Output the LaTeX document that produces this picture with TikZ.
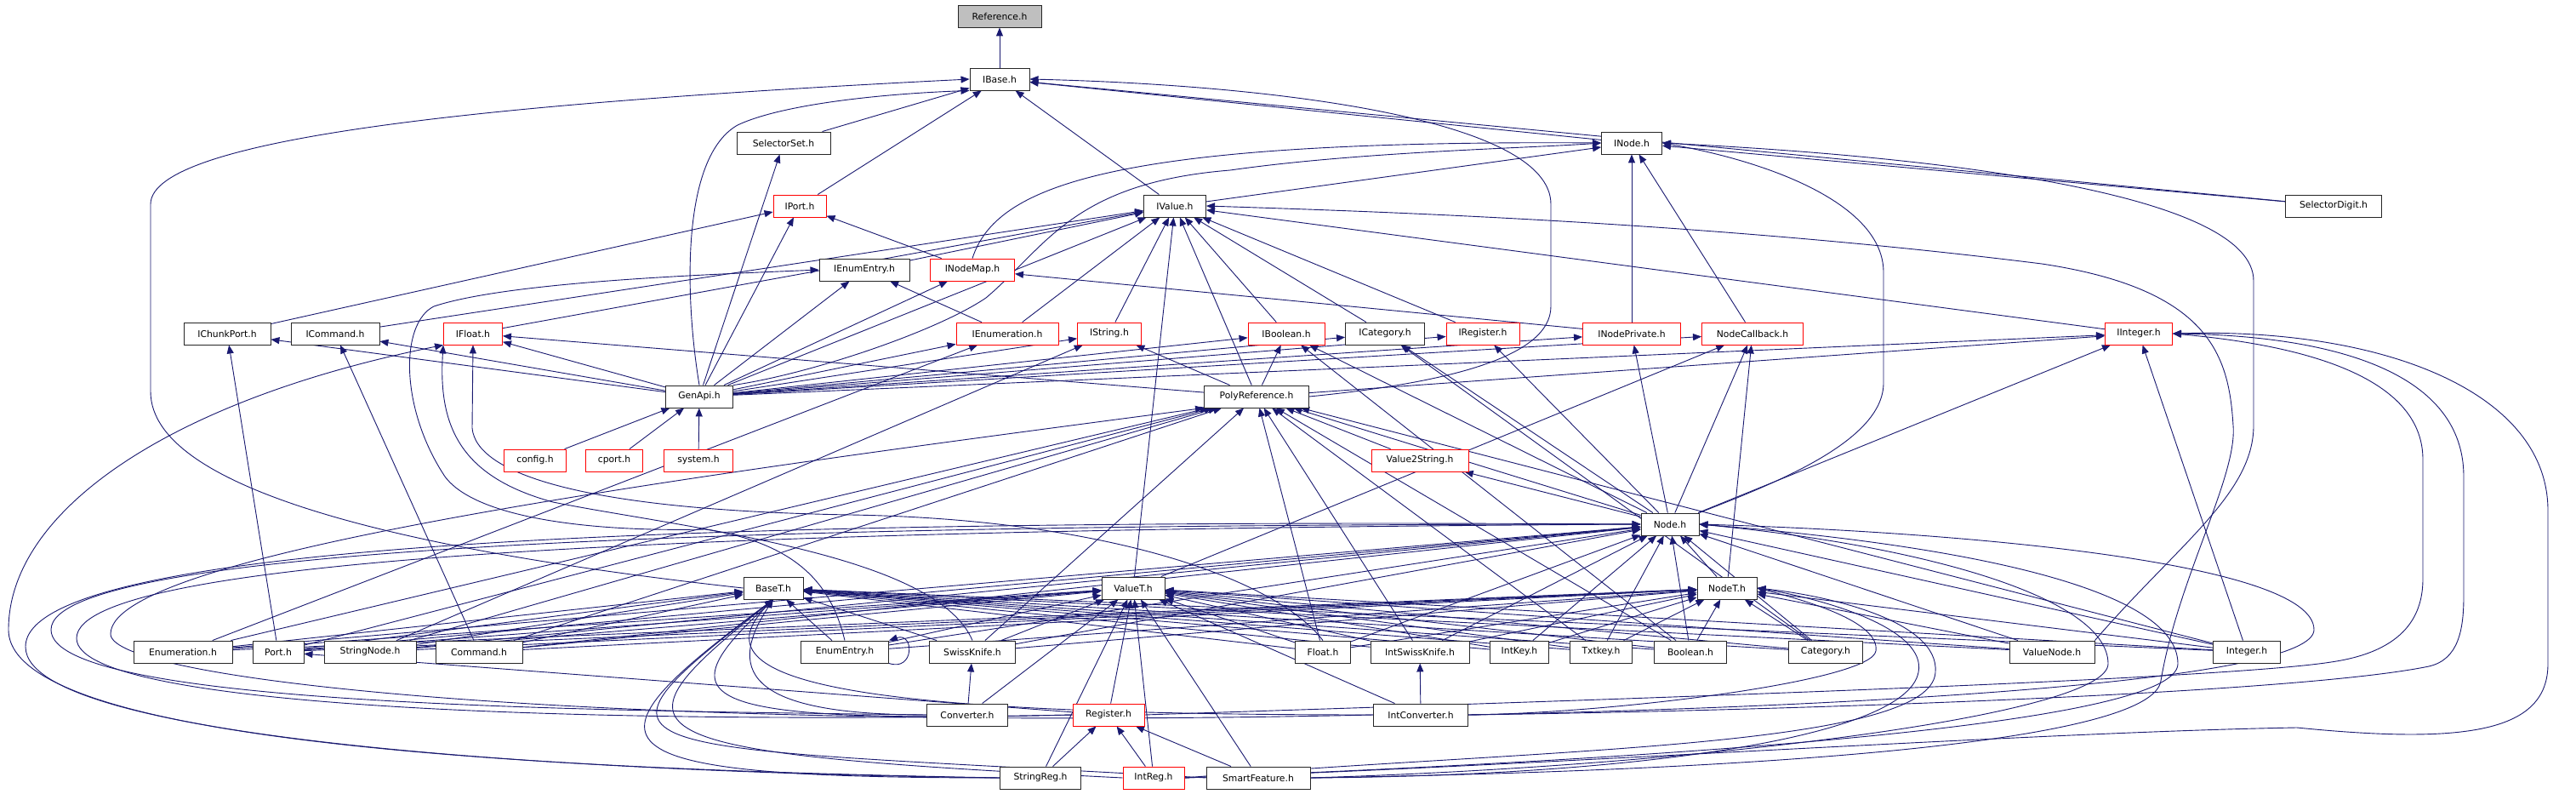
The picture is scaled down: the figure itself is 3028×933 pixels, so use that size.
\documentclass[tikz,border=0pt]{standalone}
\usepackage{fontspec}
\setmainfont{DejaVu Sans}
\usetikzlibrary{arrows.meta}
\definecolor{edgeblue}{HTML}{191970}
\definecolor{refgray}{HTML}{BFBFBF}
\pgfdeclarelayer{edgelayer}
\pgfsetlayers{edgelayer,main}
\begin{document}
\begin{tikzpicture}[x=1pt,y=-1pt,
 nb/.style={draw=black!85,line width=0.9pt,fill=white,minimum height=26pt,inner sep=0pt,font=\fontsize{10.8}{13}\selectfont},
 nr/.style={nb,draw=red},
 dep/.style={draw=edgeblue,line width=0.9pt,-{Triangle[length=10pt,width=8pt]}}]
\useasboundingbox (0,0) rectangle (3028,933);
% rank 0-4
\node[nb,fill=refgray,minimum width=98] (ref) at (1175,19) {Reference.h};
\node[nb,minimum width=70] (ibase) at (1175,93) {IBase.h};
\node[nb,minimum width=110] (selset) at (921,168) {SelectorSet.h};
\node[nb,minimum width=71] (inode) at (1918,168) {INode.h};
\node[nr,minimum width=62] (iport) at (940,242) {IPort.h};
\node[nb,minimum width=73] (ivalue) at (1381,242) {IValue.h};
\node[nb,minimum width=113] (seldig) at (2743,242) {SelectorDigit.h};
\node[nb,minimum width=106] (ienumentry) at (1016,317) {IEnumEntry.h};
\node[nr,minimum width=99] (inodemap) at (1143,317) {INodeMap.h};
% rank 5
\node[nb,minimum width=102] (ichunk) at (267,392) {IChunkPort.h};
\node[nb,minimum width=104] (icmd) at (394,392) {ICommand.h};
\node[nr,minimum width=69] (ifloat) at (556,392) {IFloat.h};
\node[nr,minimum width=120] (ienum) at (1184,392) {IEnumeration.h};
\node[nr,minimum width=75] (istring) at (1304,392) {IString.h};
\node[nr,minimum width=90] (ibool) at (1512,392) {IBoolean.h};
\node[nb,minimum width=93] (icat) at (1628,392) {ICategory.h};
\node[nr,minimum width=86] (ireg) at (1743,392) {IRegister.h};
\node[nr,minimum width=115] (inodepriv) at (1918,392) {INodePrivate.h};
\node[nr,minimum width=119] (nodecb) at (2060,392) {NodeCallback.h};
\node[nr,minimum width=79] (iint) at (2514,392) {IInteger.h};
% rank 6-9
\node[nb,minimum width=79] (genapi) at (822,466) {GenApi.h};
\node[nb,minimum width=123] (poly) at (1477,466) {PolyReference.h};
\node[nr,minimum width=73] (config) at (629,541) {config.h};
\node[nr,minimum width=67] (cport) at (722,541) {cport.h};
\node[nr,minimum width=81] (system) at (821,541) {system.h};
\node[nr,minimum width=114] (v2s) at (1669,541) {Value2String.h};
\node[nb,minimum width=68] (node) at (1963,616) {Node.h};
\node[nb,minimum width=70] (baset) at (909,691) {BaseT.h};
\node[nb,minimum width=74] (valuet) at (1332,691) {ValueT.h};
\node[nb,minimum width=70] (nodet) at (2030,691) {NodeT.h};
% rank 10
\node[nb,minimum width=116] (enumer) at (215,766) {Enumeration.h};
\node[nb,minimum width=60] (port) at (327,766) {Port.h};
\node[nb,minimum width=108] (strnode) at (435,766) {StringNode.h};
\node[nb,minimum width=102] (cmd) at (563,766) {Command.h};
\node[nb,minimum width=103] (enumentry) at (993,766) {EnumEntry.h};
\node[nb,minimum width=101] (swiss) at (1143,766) {SwissKnife.h};
\node[nb,minimum width=65] (float) at (1555,766) {Float.h};
\node[nb,minimum width=116] (intswiss) at (1669,766) {IntSwissKnife.h};
\node[nb,minimum width=69] (intkey) at (1786,766) {IntKey.h};
\node[nb,minimum width=73] (txtkey) at (1882,766) {Txtkey.h};
\node[nb,minimum width=85] (bool) at (1987,766) {Boolean.h};
\node[nb,minimum width=87] (cat) at (2146,766) {Category.h};
\node[nb,minimum width=100] (valnode) at (2412,766) {ValueNode.h};
\node[nb,minimum width=79] (integer) at (2641,766) {Integer.h};
% rank 11-12
\node[nb,minimum width=95] (conv) at (1137,840) {Converter.h};
\node[nr,minimum width=84] (reg) at (1303,840) {Register.h};
\node[nb,minimum width=111] (intconv) at (1670,840) {IntConverter.h};
\node[nb,minimum width=95] (strreg) at (1223,914) {StringReg.h};
\node[nr,minimum width=72] (intreg) at (1356,914) {IntReg.h};
\node[nb,minimum width=122] (smart) at (1479,914) {SmartFeature.h};

\begin{pgfonlayer}{edgelayer}
\fill[white] (0,0) rectangle (3028,933);
\foreach \a/\b in {ibase/ref, selset/ibase, inode/ibase, iport/ibase, ivalue/ibase, seldig/ibase,
 ivalue/inode, inodepriv/inode, nodecb/inode, seldig/inode,
 genapi/selset, genapi/iport, ichunk/iport, inodemap/iport,
 ienumentry/ivalue, genapi/ivalue, ifloat/ivalue, icmd/ivalue, ienum/ivalue, istring/ivalue, valuet/ivalue, poly/ivalue, ibool/ivalue, icat/ivalue, ireg/ivalue, iint/ivalue,
 genapi/ienumentry, ienum/ienumentry, genapi/inodemap, inodepriv/inodemap,
 genapi/ichunk, port/ichunk, genapi/icmd, cmd/icmd, genapi/ifloat, poly/ifloat,
 genapi/ienum, enumer/ienum, genapi/istring, poly/istring, strnode/istring,
 genapi/ibool, poly/ibool, bool/ibool, node/ibool, genapi/icat, cat/icat, node/icat,
 genapi/ireg, node/ireg, genapi/inodepriv, node/inodepriv,
 genapi/nodecb, node/nodecb, nodet/nodecb, valuet/nodecb,
 genapi/iint, poly/iint, node/iint, integer/iint,
 config/genapi, cport/genapi, system/genapi,
 v2s/poly, node/poly, node/v2s,
 enumer/poly, port/poly, strnode/poly, cmd/poly, swiss/poly, float/poly, intswiss/poly, bool/poly, integer/poly, txtkey/poly,
 conv/swiss, intconv/intswiss, strreg/reg, intreg/reg, smart/reg,
 conv/valuet, reg/valuet, intconv/valuet, strreg/valuet, intreg/valuet, smart/valuet,
 reg/port, nodet/node}
 {\draw[dep] (\a) -- (\b);}
\foreach \a in {enumer,port,strnode,cmd,enumentry,swiss,float,intswiss,intkey,txtkey,bool,cat,valnode,integer}
 {\draw[dep] (\a) -- (baset); \draw[dep] (\a) -- (valuet); \draw[dep] (\a) -- (nodet); \draw[dep] (\a) -- (node);}
% long curved routes
\draw[dep] (baset.west) .. controls (500,650) and (177,580) .. (177,460) -- (177,240) .. controls (177,160) and (600,120) .. (ibase.west);
\draw[dep] (genapi.north) .. controls (805,350) and (800,185) .. (867,147) .. controls (920,122) and (1040,110) .. (ibase.south west);
\draw[dep] (poly.east) .. controls (1700,450) and (1823,420) .. (1823,360) -- (1823,240) .. controls (1823,140) and (1500,100) .. (ibase.east);
\draw[dep] (genapi.north east) .. controls (950,440) and (1100,390) .. (1159,350) .. controls (1230,290) and (1260,215) .. (1446,200) .. controls (1600,178) and (1800,174) .. (inode.west);
\draw[dep] (inodemap.north) .. controls (1170,220) and (1300,164) .. (inode.west);
\draw[dep] (node.north east) .. controls (2080,570) and (2214,520) .. (2214,450) -- (2214,320) .. controls (2214,240) and (2080,190) .. (inode.east);
\draw[dep] (valnode.north east) .. controls (2560,640) and (2649,580) .. (2649,500) -- (2649,330) .. controls (2649,230) and (2300,185) .. (inode.east);
\draw[dep] (smart.east) .. controls (2100,905) and (2530,870) .. (2540,800) .. controls (2560,680) and (2630,560) .. (2625,500) .. controls (2620,420) and (2600,340) .. (2400,310) .. controls (2000,260) and (1600,248) .. (ivalue.east);
\draw[dep] (reg.east) .. controls (1800,825) and (2600,800) .. (2740,778) .. controls (2830,765) and (2848,720) .. (2848,680) -- (2848,540) .. controls (2848,440) and (2700,405) .. (iint.east);
\draw[dep] (intconv.east) .. controls (2100,835) and (2700,815) .. (2855,783) .. controls (2890,775) and (2896,740) .. (2896,700) -- (2896,560) .. controls (2896,440) and (2750,395) .. (iint.east);
\draw[dep] (intreg.east) .. controls (1800,900) and (2400,860) .. (2700,855) .. controls (2900,875) and (2995,860) .. (2995,780) -- (2995,600) .. controls (2995,460) and (2800,385) .. (iint.east);
\draw[dep] (enumentry.north) .. controls (980,700) and (950,640) .. (829,622) .. controls (700,625) and (560,610) .. (523,560) .. controls (470,480) and (470,380) .. (510,360) .. controls (600,330) and (850,322) .. (ienumentry.west);
\draw[dep] (float.north) .. controls (1500,680) and (1300,610) .. (1000,605) .. controls (700,600) and (560,560) .. (555,503) -- (ifloat.south);
\draw[dep] (swiss.north) .. controls (1100,650) and (800,620) .. (650,590) .. controls (540,560) and (515,500) .. (ifloat.south west);
\draw[dep] (strreg.west) .. controls (700,905) and (10,880) .. (10,740) .. controls (10,600) and (200,470) .. (ifloat.south west);
\draw[dep] (conv.west) .. controls (700,835) and (60,830) .. (60,740) .. controls (60,640) and (900,616) .. (node.west);
\draw[dep] (reg.west) .. controls (800,850) and (90,840) .. (90,750) .. controls (90,650) and (900,622) .. (node.west);
\draw[dep] (strreg.west) .. controls (800,910) and (30,880) .. (30,760) .. controls (30,630) and (900,610) .. (node.west);
\draw[dep] (intconv.west) .. controls (700,860) and (130,800) .. (130,745) .. controls (130,650) and (800,560) .. (poly.south west);
\draw[dep] (conv.west) .. controls +(-200,0) and +(-60,90) .. (baset.south);
\draw[dep] (reg.west) .. controls +(-450,10) and +(-130,120) .. (baset.south);
\draw[dep] (strreg.west) .. controls +(-500,0) and +(-230,170) .. (baset.south);
\draw[dep] (intreg.west) .. controls +(-600,-30) and +(-200,160) .. (baset.south);
\draw[dep] (smart.west) .. controls +(-700,-40) and +(-250,190) .. (baset.south);
\draw[dep] (intconv.west) .. controls +(-600,0) and +(-100,100) .. (baset.south);
\draw[dep] (intconv.east) .. controls (1900,838) and (2200,800) .. (2205,765) .. controls (2210,730) and (2120,705) .. (nodet.east);
\draw[dep] (smart.east) .. controls (1900,912) and (2240,870) .. (2255,790) .. controls (2265,740) and (2150,705) .. (nodet.east);
\draw[dep] (intreg.east) .. controls (1800,880) and (2270,880) .. (2275,790) .. controls (2280,730) and (2150,700) .. (nodet.east);
\draw[dep] (intconv.east) .. controls (2200,830) and (2720,800) .. (2720,740) .. controls (2720,660) and (2300,625) .. (node.east);
\draw[dep] (smart.east) .. controls (2000,900) and (2478,840) .. (2478,780) .. controls (2478,700) and (2250,640) .. (node.east);
\draw[dep] (intreg.east) .. controls (2000,890) and (2560,850) .. (2560,780) .. controls (2560,690) and (2300,640) .. (node.east);
\draw[dep] (enumentry.south east) .. controls +(30,10) and +(30,-10) .. (enumentry.north east);
\end{pgfonlayer}
\end{tikzpicture}
\end{document}
